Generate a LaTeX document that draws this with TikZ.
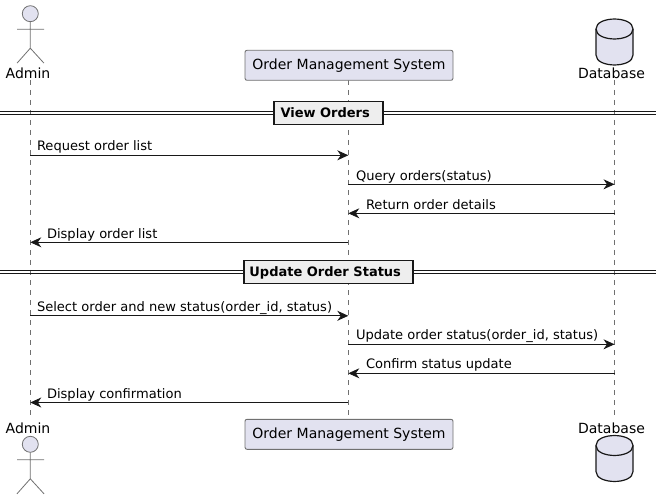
\documentclass[tikz,border=0pt]{standalone}
\usepackage{fontspec}
\setmainfont{DejaVu Sans}
\usetikzlibrary{arrows.meta}
\definecolor{partfill}{HTML}{E2E2F0}
\definecolor{partline}{HTML}{707070}
\definecolor{inkc}{HTML}{181818}
\definecolor{divfill}{HTML}{EEEEEE}
\tikzset{
  x=1pt,y=-1pt,
  every node/.style={inner sep=0pt,outer sep=0pt,text=black},
  lbl/.style={font=\fontsize{14}{16}\selectfont,anchor=base},
  msgtxt/.style={font=\fontsize{13.05}{15}\selectfont,anchor=base west},
  partbox/.style={draw=partline,fill=partfill,rounded corners=2pt,line width=.9pt,minimum width=208pt,minimum height=30pt,font=\fontsize{14}{16}\selectfont},
  lifeline/.style={draw=partline,line width=.6pt,dash pattern=on 5pt off 5pt},
  actorline/.style={draw=partline,line width=.8pt},
  dbline/.style={draw=inkc,line width=1.2pt,fill=partfill},
  msg/.style={draw=inkc,line width=.9pt,-{Stealth[length=11pt,width=10pt,inset=3.5pt]}},
  divbox/.style={draw=inkc,fill=divfill,line width=1.7pt,font=\bfseries\fontsize{13}{15}\selectfont,minimum height=23pt},
  divline/.style={draw=inkc,line width=1.1pt},
}
\newcommand{\actorfig}[1]{%
  \draw[actorline,fill=partfill] (30.3,#1) circle (8);
  \draw[actorline] (30.3,#1+8) -- (30.3,#1+34.5) (17,#1+15.5) -- (44,#1+15.5)
    (17,#1+49.5) -- (30.3,#1+34.5) -- (44,#1+49.5);
}
\newcommand{\dbfig}[1]{%
  \draw[dbline] (596,#1+10) .. controls (596,#1-3.3) and (633,#1-3.3) .. (633,#1+10)
    -- (633,#1+36) .. controls (633,#1+49.3) and (596,#1+49.3) .. (596,#1+36) -- cycle;
  \draw[dbline,fill=none] (596,#1+10) .. controls (596,#1+23.3) and (633,#1+23.3) .. (633,#1+10);
}
\newcommand{\partstrut}{\rule[-3pt]{0pt}{15pt}}
\newcommand{\divstrut}{\rule[-3pt]{0pt}{14.4pt}}
\begin{document}
\begin{tikzpicture}
\useasboundingbox (0,0) rectangle (662,500);
% lifelines
\coordinate (aT) at (30.3,80);  \coordinate (aB) at (30.3,419);
\coordinate (oT) at (348.3,80); \coordinate (oB) at (348.3,419);
\coordinate (dT) at (614.5,80); \coordinate (dB) at (614.5,419);
\draw[lifeline] (aT) -- (aB);
\draw[lifeline] (oT) -- (oB);
\draw[lifeline] (dT) -- (dB);
% participants
\actorfig{13.7}
\actorfig{444.3}
\dbfig{19}
\dbfig{435.5}
\node[lbl] (adminT) at (28,79) {Admin};
\node[lbl] (adminB) at (28,433.5) {Admin};
\node[partbox] (sysT) at (349,65.3) {\partstrut Order Management System};
\node[partbox] (sysB) at (349,434.3) {\partstrut Order Management System};
\node[lbl] (dbT) at (611.5,79) {Database};
\node[lbl] (dbB) at (611.5,433.5) {Database};
% dividers
\draw[divline] (0,111.5) -- (656,111.5) (0,114.5) -- (656,114.5);
\draw[divline] (0,270.5) -- (656,270.5) (0,273.5) -- (656,273.5);
\node[divbox,minimum width=109pt] (viewT) at (328.2,113) {\divstrut View Orders\hspace*{6pt}};
\node[divbox,minimum width=169pt] (updT) at (328.2,272) {\divstrut Update Order Status\hspace*{6pt}};
% messages
\foreach \n/\y/\xa/\xb in {m1/155.3/30.3/348.3, m2/184.3/348.3/614.5, m3/213.3/614.5/348.3, m4/242.3/348.3/30.3,
                           m5/315.8/30.3/348.3, m6/344.3/348.3/614.5, m7/373.3/614.5/348.3, m8/402.5/348.3/30.3}{
  \coordinate (\n s) at (\xa,\y);
  \coordinate (\n e) at (\xb,\y);
  \draw[msg] (\n s) -- (\n e);
}
\node[msgtxt] (t1) at (37,150.5) {Request order list};
\node[msgtxt] (t2) at (356,180.5) {Query orders(status)};
\node[msgtxt] (t3) at (366,209.5) {Return order details};
\node[msgtxt] (t4) at (47,238) {Display order list};
\node[msgtxt] (t5) at (37,311) {Select order and new status(order\_id, status)};
\node[msgtxt] (t6) at (356,339.5) {Update order status(order\_id, status)};
\node[msgtxt] (t7) at (366,368.5) {Confirm status update};
\node[msgtxt] (t8) at (47,398) {Display confirmation};
\end{tikzpicture}
\end{document}
